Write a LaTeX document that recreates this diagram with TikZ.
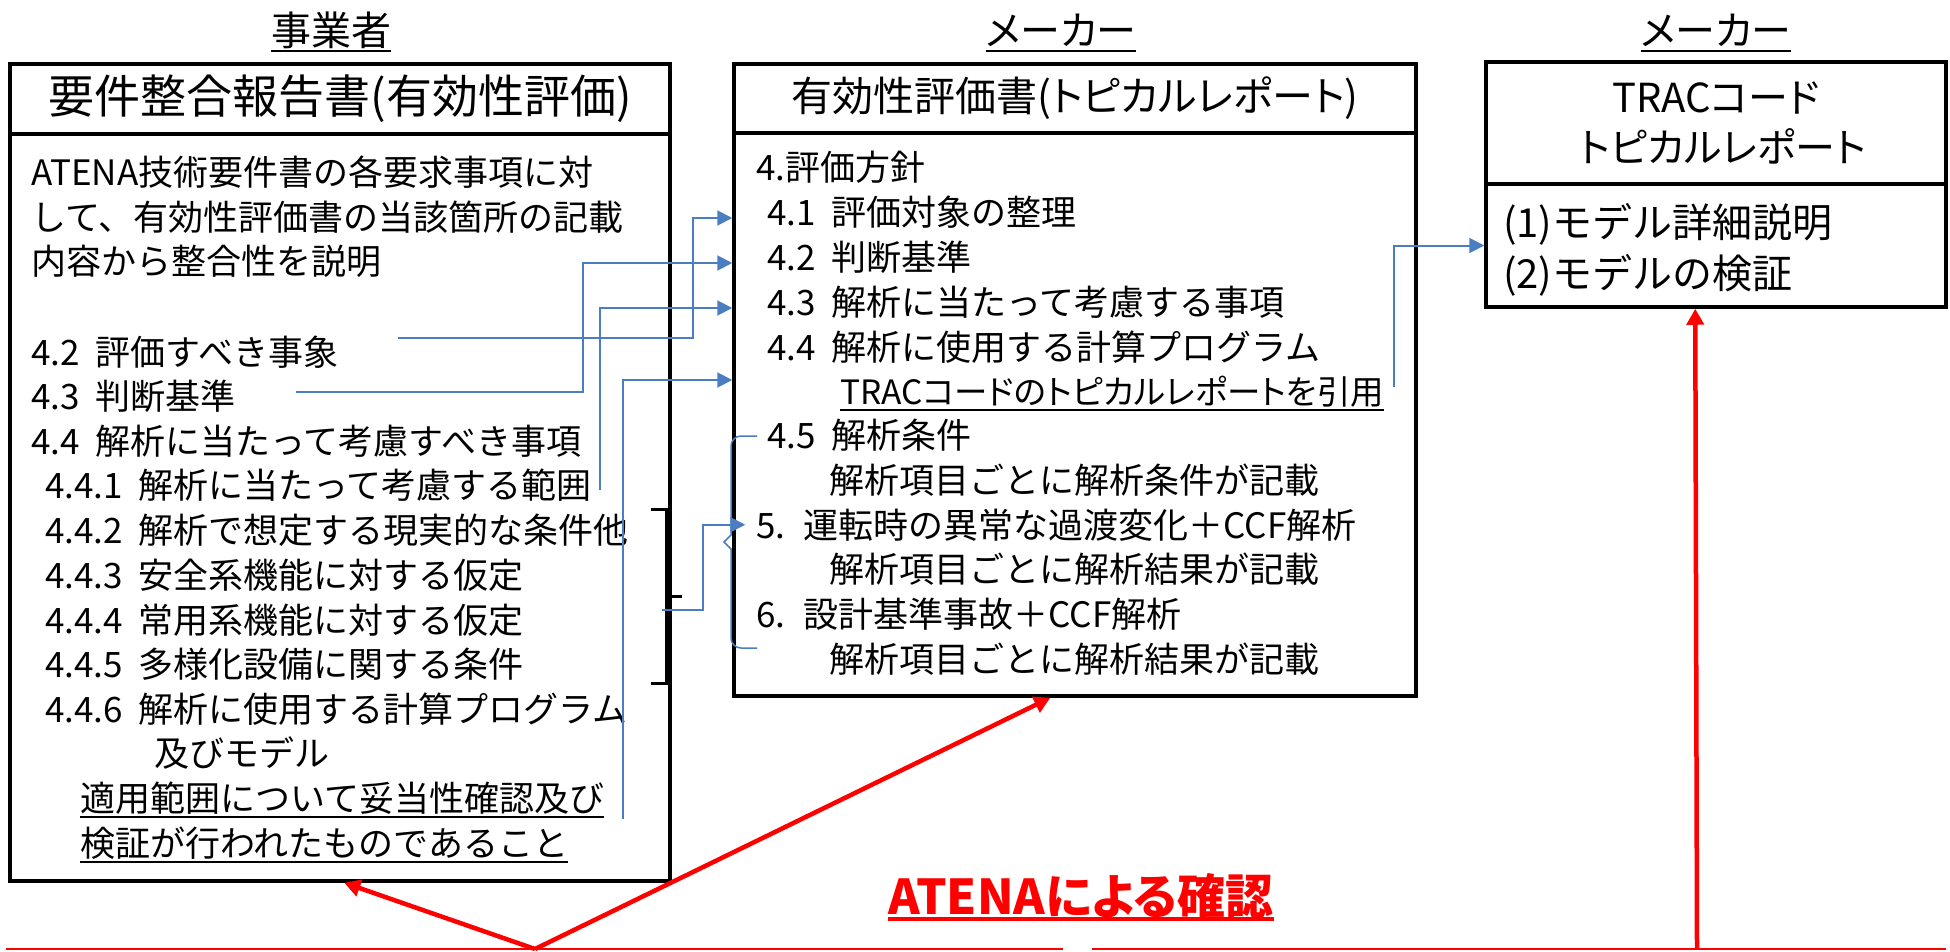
\documentclass[tikz,border=0pt]{standalone}
\usepackage{fontspec}
\setmainfont{Noto Sans CJK JP}[WordSpace=2]
\newfontfamily\kanafont[RawFeature=+palt]{Noto Sans CJK JP}
\usetikzlibrary{arrows.meta}
\definecolor{linkblue}{RGB}{74,126,193}
\newcommand{\ulbox}[2][2.5pt]{\setbox0=\hbox{#2}\rlap{\copy0}\rule[-7pt]{\wd0}{#1}}

\tikzset{
  docbox/.style={draw, line width=3.5pt, inner sep=0pt},
  item/.style={anchor=base west, inner sep=0pt, font=\fontsize{35}{42}\selectfont},
  bigitem/.style={anchor=base west, inner sep=0pt, font=\fontsize{40}{48}\selectfont},
  header/.style={anchor=base, inner sep=0pt, font=\fontsize{40}{48}\selectfont\kanafont},
  link/.style={color=linkblue, line width=2pt, -{Triangle[length=15pt,width=15pt]}},
  check/.style={color=red, line width=4.5pt, -{Triangle[length=16pt,width=17pt]}},
}

\begin{document}
\begin{tikzpicture}[x=1pt,y=-1pt]
\useasboundingbox (0,0) rectangle (1950,951);

\node[header] (hj) at (331,45) {\ulbox{事業者}};
\node[header] (hm) at (1061,45) {\ulbox{メーカー}};
\node[header] (ht) at (1716,45) {\ulbox{メーカー}};

\node[docbox, minimum width=660pt, minimum height=70pt, font=\fontsize{46}{52}\selectfont] (jtitle) at (340,99) {要件整合報告書(有効性評価)};
\node[docbox, minimum width=660pt, minimum height=747pt] (jbody) at (340,507.5) {};

\node[docbox, minimum width=682pt, minimum height=69pt, font=\fontsize{41}{48}\selectfont\kanafont] (mtitle) at (1075,98.5) {有効性評価書(トピカルレポート)};
\node[docbox, minimum width=682pt, minimum height=563pt] (mbody) at (1075,414.5) {};

\node[docbox, minimum width=460pt, minimum height=122pt, align=center, font=\fontsize{40}{50}\selectfont\kanafont] (ttitle) at (1716,123) {TRACコード\\\hspace*{14pt}トピカルレポート};
\node[docbox, minimum width=460pt, minimum height=123pt] (tbody) at (1716,245.5) {};

\node[item] (l0) at (31,185) {ATENA技術要件書の各要求事項に対};
\node[item] (l1) at (31,230) {して、有効性評価書の当該箇所の記載};
\node[item] (l2) at (31,274) {内容から整合性を説明};
\node[item] (l42) at (31,365) {4.2 評価すべき事象};
\node[item] (l43) at (31,409) {4.3 判断基準};
\node[item] (l44) at (31,454) {4.4 解析に当たって考慮すべき事項};
\node[item] (l441) at (45,498) {4.4.1 解析に当たって考慮する範囲};
\node[item] (l442) at (45,543) {4.4.2 解析で想定する現実的な条件他};
\node[item] (l443) at (45,588) {4.4.3 安全系機能に対する仮定};
\node[item] (l444) at (45,633) {4.4.4 常用系機能に対する仮定};
\node[item] (l445) at (45,677) {4.4.5 多様化設備に関する条件};
\node[item] (l446) at (45,722) {4.4.6 解析に使用する計算プログラム};
\node[item] (l446b) at (154,766) {及びモデル};
\node[item] (l446c) at (80,811) {\ulbox{適用範囲について妥当性確認及び}};
\node[item] (l446d) at (80,856) {\ulbox{検証が行われたものであること}};

\node[item] (m4) at (756,180) {4.評価方針};
\node[item] (m41) at (767,225) {4.1 評価対象の整理};
\node[item] (m42) at (767,270) {4.2 判断基準};
\node[item] (m43) at (767,315) {4.3 解析に当たって考慮する事項};
\node[item] (m44) at (767,360) {4.4 解析に使用する計算プログラム};
\node[item, font=\fontsize{33.5}{42}\selectfont\kanafont] (m44b) at (840,404) {\ulbox{TRACコードのトピカルレポートを引用}};
\node[item] (m45) at (767,448) {4.5 解析条件};
\node[item] (m45b) at (829,493) {解析項目ごとに解析条件が記載};
\node[item] (m5) at (756,538) {5. 運転時の異常な過渡変化＋CCF解析};
\node[item] (m5b) at (829,582) {解析項目ごとに解析結果が記載};
\node[item] (m6) at (756,627) {6. 設計基準事故＋CCF解析};
\node[item] (m6b) at (829,672) {解析項目ごとに解析結果が記載};

\node[bigitem] (t1) at (1503,237) {(1)モデル詳細説明};
\node[bigitem] (t2) at (1503,288) {(2)モデルの検証};

\node[anchor=base, inner sep=0pt, text=red, font=\fontsize{48}{56}\selectfont\bfseries\kanafont] (atena) at (1081,914) {\ulbox[4pt]{ATENAによる確認}};

\draw[line width=3pt] (651,509) -- (666,509) -- (666,683) -- (651,683);
\draw[line width=3pt] (666,596) -- (682,596);
\draw[linkblue, line width=1.5pt] (757,436) -- (741,436) to[out=180,in=90] (731,446) -- (731,535) -- (724,542) -- (731,549) -- (731,638) to[out=-90,in=180] (741,648) -- (757,648);

\coordinate (s42) at (398,338);
\coordinate (s43) at (296,392);
\coordinate (s441) at (600,490);
\coordinate (s446) at (623,819);
\coordinate (brk) at (662,610);
\coordinate (strac) at (1394,387);

\draw[link] (s42) -- ++(295,0) |- ([yshift=7pt]m41.base -| mbody.west);
\draw[link] (s43) -- ++(287,0) |- ([yshift=7pt]m42.base -| mbody.west);
\draw[link] (s441) |- ([yshift=7pt]m43.base -| mbody.west);
\draw[link] (s446) |- ([yshift=-20pt]m44.base -| mbody.west);
\draw[link] (brk) -- ++(41,0) |- ([xshift=13pt]m5.west -| mbody.west);
\draw[link] (strac) |- (tbody.west);

\draw[red, line width=2.5pt] (6,949) -- (1063,949);
\draw[red, line width=2.5pt] (1092,949) -- (1946,949);
\coordinate (vtip) at (535,949);
\coordinate (atip) at (1697,949);
\draw[check] (vtip) -- ([xshift=336pt]jbody.south west);
\draw[check] (vtip) -- ([xshift=318pt]mbody.south west);
\draw[check] (atip) -- ([xshift=211pt]tbody.south west);
\end{tikzpicture}
\end{document}
